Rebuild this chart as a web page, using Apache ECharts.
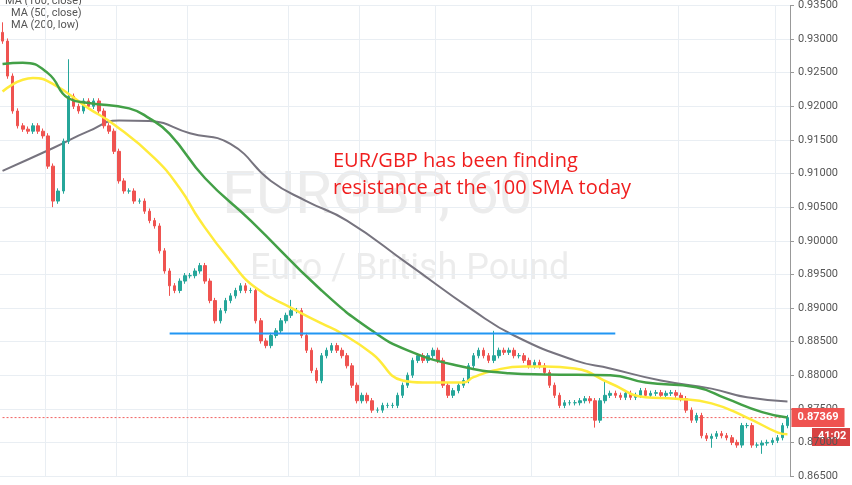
<!DOCTYPE html>
<html>
<head>
<meta charset="utf-8">
<script src="https://cdn.jsdelivr.net/npm/echarts@6/dist/echarts.min.js"></script>
<style>
  html, body { margin: 0; padding: 0; background: #fff; }
  #chart { width: 852px; height: 485px; }
</style>
</head>
<body>
<div id="chart"></div>
<script>
// closes of the hourly candles (open = previous close)
const closes = [
  0.9297,0.9245,0.9193,0.9171,0.9166,0.9163,0.9171,0.9163,0.9156,0.9111,
  0.9059,0.9074,0.9148,0.9215,0.9200,0.9193,0.9208,0.9200,0.9208,0.9193,
  0.9171,0.9163,0.9133,0.9089,0.9074,0.9074,0.9059,0.9059,0.9044,0.9030,
  0.9022,0.8985,0.8955,0.8933,0.8926,0.8940,0.8948,0.8948,0.8955,0.8963,
  0.8940,0.8911,0.8881,0.8896,0.8911,0.8918,0.8926,0.8933,0.8926,0.8926,
  0.8881,0.8851,0.8844,0.8859,0.8866,0.8881,0.8889,0.8896,0.8896,0.8859,
  0.8837,0.8807,0.8792,0.8829,0.8837,0.8844,0.8837,0.8829,0.8814,0.8785,
  0.8762,0.8770,0.8762,0.8748,0.8748,0.8755,0.8755,0.8755,0.8770,0.8785,
  0.8800,0.8822,0.8829,0.8822,0.8829,0.8837,0.8822,0.8785,0.8770,0.8777,
  0.8785,0.8792,0.8814,0.8829,0.8837,0.8829,0.8822,0.8829,0.8837,0.8834,
  0.8837,0.8829,0.8829,0.8822,0.8814,0.8819,0.8814,0.8804,0.8785,0.8770,
  0.8755,0.8759,0.8759,0.8759,0.8762,0.8765,0.8762,0.8733,0.8762,0.8770,
  0.8773,0.8770,0.8767,0.8773,0.8767,0.8770,0.8777,0.8770,0.8773,0.8774,
  0.8770,0.8773,0.8774,0.8770,0.8765,0.8748,0.8733,0.8740,0.8710,0.8706,
  0.8709,0.8713,0.8710,0.8707,0.8700,0.8696,0.8725,0.8725,0.8696,0.8696,
  0.8699,0.8700,0.8703,0.8707,0.8725,0.87369
]
const firstOpen = 0.9310
// typical wick beyond the body, plus the long spikes seen on the chart
const wick = 0.0004
const highSpikes = { 0: 0.9325, 13: 0.9270, 57: 0.8912, 97: 0.8866, 119: 0.8790 }
const lowSpikes = { 10: 0.9050, 33: 0.8918, 117: 0.8722, 150: 0.8683, 140: 0.8692 }

// moving averages sampled along their lines: [candle index, value]
const ma50 = [[0,0.9222],[6,0.9242],[10,0.9233],[17,0.9197],[22,0.9173],[30,0.9123],[35,0.9078],[39,0.9030],[45,0.8970],[50,0.8930],[57,0.8900],[63,0.8877],[67,0.8862],[73,0.8832],[79,0.8792],[83,0.8789],[91,0.8789],[93,0.8797],[97,0.8807],[103,0.8813],[107,0.8813],[113,0.8810],[120,0.8788],[127,0.8767],[133,0.8765],[140,0.8758],[147,0.8737],[153,0.8715],[155,0.8712]]
const ma100 = [[0,0.9263],[4,0.9265],[9,0.9249],[13,0.9212],[17,0.9205],[25,0.9197],[29,0.9182],[33,0.9159],[40,0.9093],[49,0.9030],[63,0.8926],[73,0.8866],[80,0.8837],[90,0.8814],[100,0.8803],[107,0.8801],[120,0.8800],[127,0.8789],[137,0.8782],[143,0.8765],[150,0.8745],[155,0.8737]]
const ma200 = [[0,0.9104],[10,0.9138],[17,0.9163],[23,0.9179],[29,0.9178],[37,0.9160],[45,0.9144],[53,0.9089],[60,0.9059],[68,0.9030],[80,0.8966],[93,0.8896],[101,0.8859],[113,0.8822],[120,0.8810],[130,0.8792],[140,0.8780],[147,0.8767],[155,0.8761]]
const resistance = [[33,0.8862],[121,0.8862]]
const lastPrice = 0.87369
const gridCandles = [9,23,37,57,71,86,105,134,153]

const categories = closes.map((c, i) => i)
const candles = closes.map((c, i) => {
  const o = i === 0 ? firstOpen : closes[i - 1]
  const hi = highSpikes[i] !== undefined ? highSpikes[i] : Math.max(o, c) + wick
  const lo = lowSpikes[i] !== undefined ? lowSpikes[i] : Math.min(o, c) - wick
  return [o, c, lo, hi]
})
const lastIdx = closes.length - 1

const chart = echarts.init(document.getElementById('chart'))
const option = {
  animation: false,
  grid: { left: 0, right: 62, top: 4, bottom: 9, containLabel: false },
  xAxis: {
    type: 'category',
    data: categories,
    boundaryGap: true,
    axisLine: { show: false },
    axisTick: { show: false },
    axisLabel: { show: false },
    splitLine: {
      show: true,
      interval: (i) => gridCandles.indexOf(i) >= 0,
      lineStyle: { color: '#e9eef3' }
    }
  },
  yAxis: {
    type: 'value',
    position: 'right',
    min: 0.865,
    max: 0.935,
    interval: 0.005,
    axisLine: { show: true, lineStyle: { color: '#999' } },
    axisTick: { show: true, length: 4, lineStyle: { color: '#999' } },
    axisLabel: { color: '#555', fontSize: 11, fontFamily: 'Roboto', formatter: v => v.toFixed(5), margin: 8 },
    splitLine: { lineStyle: { color: '#e9eef3' } }
  },
  series: [
    {
      // dotted current-price line with its tag on the axis
      type: 'line',
      data: [[0, lastPrice], [lastIdx, lastPrice]],
      showSymbol: false,
      lineStyle: { color: '#f06060', type: [2, 2], width: 1 },
      endLabel: {
        show: true, distance: 4,
        formatter: lastPrice.toFixed(5),
        color: '#fff', backgroundColor: '#ef5350', padding: [4, 6],
        fontSize: 11, fontWeight: 'bold', fontFamily: 'Roboto'
      },
      z: 1
    },
    {
      type: 'candlestick',
      data: candles,
      barWidth: 3,
      itemStyle: { color: '#26a69a', color0: '#ef5350', borderColor: '#26a69a', borderColor0: '#ef5350', borderWidth: 1 },
      z: 3
    },
    { type: 'line', data: ma200, smooth: true, showSymbol: false, lineStyle: { color: '#77747f', width: 2 }, z: 2 },
    { type: 'line', data: ma50, smooth: true, showSymbol: false, lineStyle: { color: '#ffeb3b', width: 2.5 }, z: 4 },
    { type: 'line', data: ma100, smooth: true, showSymbol: false, lineStyle: { color: '#43a047', width: 2.5 }, z: 5 },
    { type: 'line', data: resistance, showSymbol: false, lineStyle: { color: '#2196f3', width: 2 }, z: 6 }
  ],
  graphic: [
    { type: 'text', left: 222, top: 168, z: 0, style: { text: 'EURGBP, 60', fill: 'rgba(150,150,150,0.18)', font: '60px Roboto' } },
    { type: 'text', left: 250, top: 252, z: 0, style: { text: 'Euro / British Pound', fill: 'rgba(150,150,150,0.18)', font: '36px Roboto' } },
    { type: 'text', left: 333, top: 148, z: 10, style: { text: 'EUR/GBP has been finding\nresistance at the 100 SMA today', fill: '#f01e1e', font: '500 20px "Open Sans"', lineHeight: 27, align: 'center', x: 154 } },
    { type: 'text', left: 5, top: -4, style: { text: 'MA (100, close)', fill: '#555', font: '11px Roboto' } },
    { type: 'text', left: 11, top: 8, style: { text: 'MA (50, close)', fill: '#555', font: '11px Roboto' } },
    { type: 'text', left: 11, top: 20, style: { text: 'MA (200, low)', fill: '#555', font: '11px Roboto' } },
    { type: 'rect', left: 812, top: 428, shape: { width: 38, height: 18 }, style: { fill: '#d84343' } },
    { type: 'text', left: 818, top: 431, style: { text: '41:02', fill: '#fff', font: 'bold 11px Roboto' } }
  ]
}
chart.setOption(option)
</script>
</body>
</html>
